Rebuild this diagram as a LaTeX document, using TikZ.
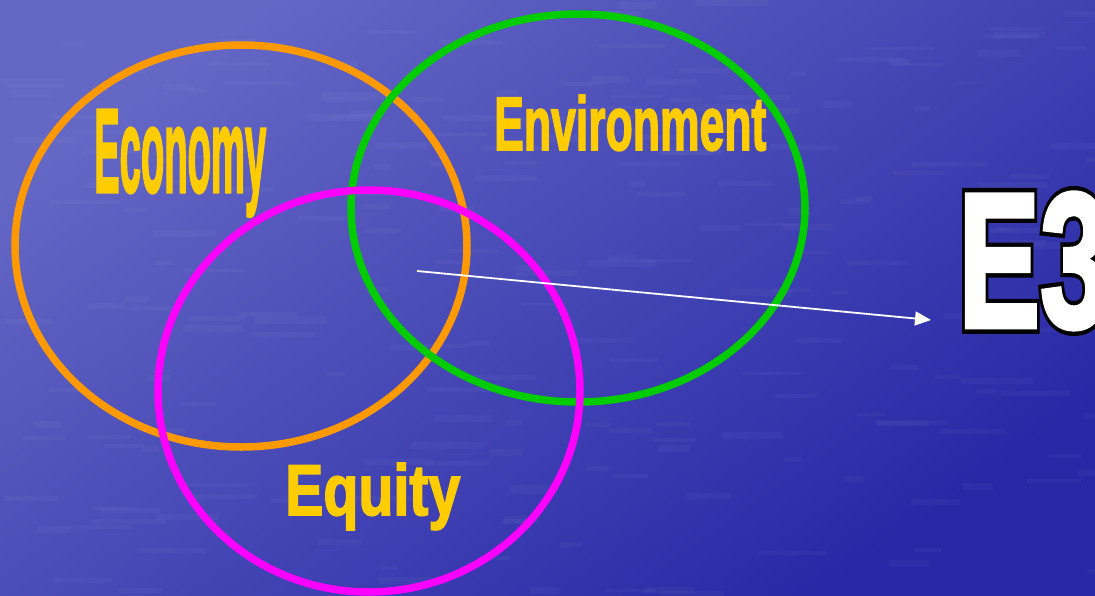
\documentclass[tikz,border=0pt]{standalone}
\usepackage{fontspec}
\setmainfont{Liberation Sans}
\usetikzlibrary{shapes.geometric,arrows.meta}
% heavy condensed look: emboldened bold face, squeezed by \resizebox
\newfontfamily\heavyfont{Liberation Sans Bold}[FakeBold=2.5]
\newfontfamily\rimfont{Liberation Sans Bold}[FakeBold=7]
\definecolor{bgtop}{HTML}{6467C4}
\definecolor{bgbot}{HTML}{2828A6}
\definecolor{econ}{HTML}{FF9900}
\definecolor{envi}{HTML}{00CC00}
\definecolor{equi}{HTML}{FF00FF}
\definecolor{lbl}{HTML}{FFCC00}
\tikzset{
  ring/.style={ellipse, draw, line width=7.5pt, inner sep=0pt},
  word/.style={anchor=base west, inner sep=0pt, text=lbl, font=\heavyfont},
  pointer/.style={draw=white, line width=1.8pt, -{Triangle[length=16pt,width=14pt]}}
}
\begin{document}
\begin{tikzpicture}[x=1pt,y=-1pt]
  % water-like background
  \useasboundingbox (0,0) rectangle (1095,595);
  \shade[top color=bgtop, bottom color=bgbot, shading angle=35] (0,0) rectangle (1095,595);
  \pgfmathsetseed{7}
  \foreach \i in {1,...,220}{
    \pgfmathsetmacro{\sx}{rnd*1095}
    \pgfmathsetmacro{\sy}{rnd*595}
    \pgfmathsetmacro{\sw}{15+rnd*60}
    \fill[white, opacity=0.03] (\sx,\sy) rectangle ++(\sw,3+rnd*4);
  }

  % the three rings
  \node[ring, draw=econ, minimum width=452pt, minimum height=402pt] (economy) at (241,246) {};
  \node[ring, draw=envi, minimum width=454pt, minimum height=388pt] (environment) at (578,208) {};
  \node[ring, draw=equi, minimum width=422pt, minimum height=402pt] (equity) at (369,391) {};

  % labels
  \node[word] (tEconomy) at (94,192) {\resizebox{172pt}{82pt}{Economy}};
  \node[word] (tEnvironment) at (494,150) {\resizebox{272pt}{55pt}{Environment}};
  \node[word] (tEquity) at (285,515) {\resizebox{175pt}{52pt}{Equity}};

  % outlined E3: thick black rim under a white face
  \node[anchor=base west, inner sep=0pt, text=black, font=\rimfont] (rimE3) at (958,327) {\resizebox{150pt}{134pt}{E3}};
  \node[anchor=base west, inner sep=0pt, text=white, font=\heavyfont] (tE3) at (958,327) {\resizebox{150pt}{134pt}{E3}};

  % pointer from the overlap to E3
  \coordinate (from) at (417,271);
  \coordinate (to) at (931,320);
  \draw[pointer] (from) -- (to);
\end{tikzpicture}
\end{document}
